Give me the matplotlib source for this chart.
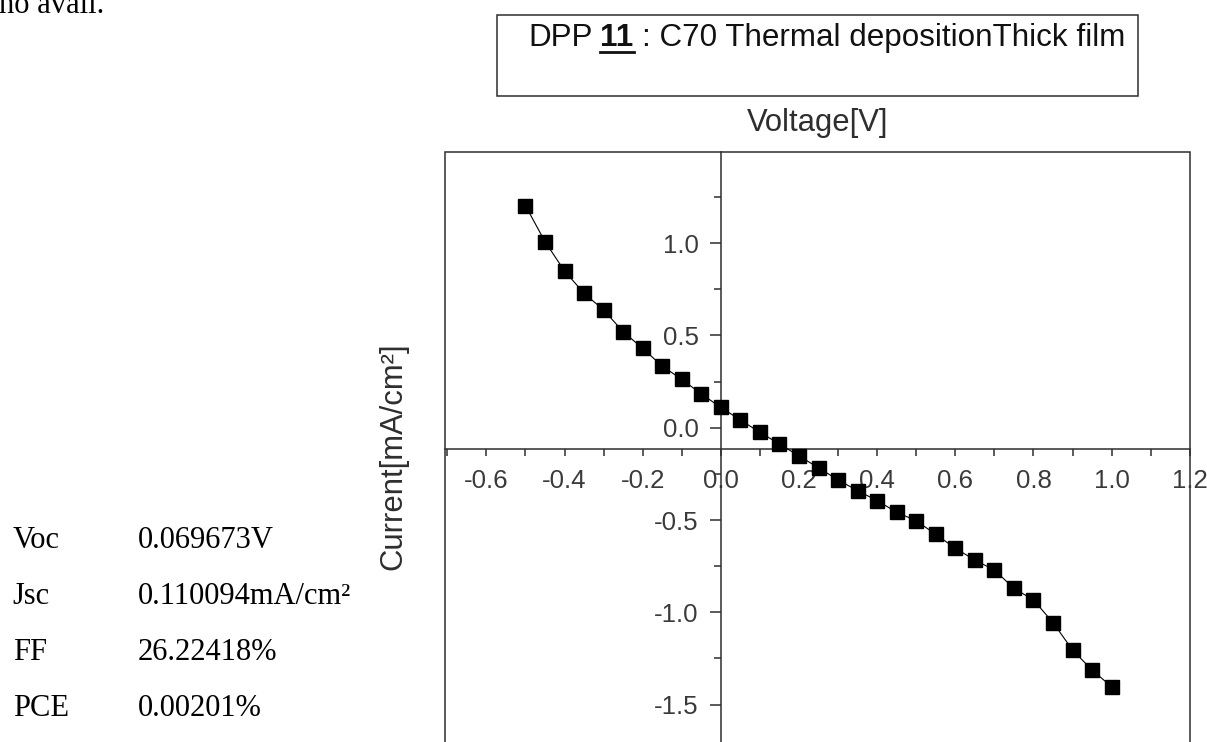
import matplotlib
matplotlib.use("Agg")
from matplotlib import pyplot as plt
from matplotlib.patches import Rectangle
from matplotlib.lines import Line2D
from matplotlib.ticker import MultipleLocator, FormatStrFormatter

# Curva J-V (V, mA/cm2)
tensao = [-0.50, -0.45, -0.40, -0.35, -0.30, -0.25, -0.20, -0.15, -0.10, -0.05,
          0.00, 0.05, 0.10, 0.15, 0.20, 0.25, 0.30, 0.35, 0.40, 0.45,
          0.50, 0.55, 0.60, 0.65, 0.70, 0.75, 0.80, 0.85, 0.90, 0.95, 1.00]
corrente = [1.203, 1.008, 0.849, 0.728, 0.638, 0.520, 0.430, 0.334, 0.262, 0.183,
            0.110, 0.042, -0.025, -0.088, -0.153, -0.217, -0.283, -0.341, -0.395, -0.458,
            -0.504, -0.578, -0.653, -0.717, -0.771, -0.870, -0.933, -1.056, -1.204, -1.313,
            -1.403]

parametros = ["Voc", "Jsc", "FF", "PCE"]
valores = ["0.069673V", "0.110094mA/cm\u00b2", "26.22418%", "0.00201%"]

titulo = [("DPP", "normal"), ("11", "bold"), (": C70 Thermal depositionThick film", "normal")]

W, H = 1207, 742
cinza = "#2e2e2e"
cinza_txt = "#3a3a3a"
plt.rcParams["font.family"] = ["Liberation Sans", "DejaVu Sans"]
plt.rcParams["axes.unicode_minus"] = False

fig = plt.figure(figsize=(W / 100, H / 100), dpi=100)

# eixos (a parte de baixo do quadro fica fora da imagem)
ax = fig.add_axes([445 / W, 1 - 760 / H, (1190 - 445) / W, (760 - 152) / H])
ax.plot(tensao, corrente, color="black", lw=0.8, marker="s", ms=9.8,
        mfc="black", mec="black", zorder=3)
ax.set_xlim(-0.706, 1.2005)
ax.set_ylim(-1.80, 1.494)

ax.patch.set_edgecolor(cinza)
ax.patch.set_linewidth(1.1)
ax.spines["top"].set_visible(False)
ax.spines["right"].set_visible(False)
ax.spines["left"].set_position(("data", 0))
ax.spines["bottom"].set_position(("data", -0.117))
for s in ["left", "bottom"]:
    ax.spines[s].set_color(cinza)
    ax.spines[s].set_linewidth(1.1)

ax.xaxis.set_major_locator(MultipleLocator(0.2))
ax.xaxis.set_minor_locator(MultipleLocator(0.1))
ax.yaxis.set_major_locator(MultipleLocator(0.5))
ax.yaxis.set_minor_locator(MultipleLocator(0.25))
ax.xaxis.set_major_formatter(FormatStrFormatter("%.1f"))
ax.yaxis.set_major_formatter(FormatStrFormatter("%.1f"))
ax.tick_params(axis="x", which="both", direction="out", length=5, width=1.1,
               color=cinza, labelsize=18.6, labelcolor=cinza_txt, pad=9.5)
ax.tick_params(axis="y", which="major", direction="out", length=8, width=1.1,
               color=cinza, labelsize=18.6, labelcolor=cinza_txt, pad=8)
ax.tick_params(axis="y", which="minor", direction="out", length=5, width=1.1, color=cinza)

ax.xaxis.set_label_position("top")
ax.set_xlabel("Voltage[V]", fontsize=22.3, color=cinza, labelpad=15)
ax.text(-52 / 745, 0.5, "Current[mA/cm\u00b2]", rotation=90, ha="center", va="center",
        fontsize=22.3, color=cinza, transform=ax.transAxes)

# caixa do titulo
fig.add_artist(Rectangle((497 / W, 1 - 96 / H), (1138 - 497) / W, 81 / H,
                         transform=fig.transFigure, fill=False, ec=cinza, lw=1.1))
r = fig.canvas.get_renderer()
x = 528
for txt, peso in titulo:
    t = fig.text(x / W, 1 - 46 / H, txt, fontsize=22.6, fontweight=peso,
                 va="baseline", color="#111111")
    bb = t.get_window_extent(r)
    if peso == "bold":
        fig.add_artist(Line2D([bb.x0 / W, bb.x1 / W], [1 - 52 / H, 1 - 52 / H],
                              transform=fig.transFigure, color="#111111", lw=2))
    x = bb.x1 + 8

# texto do documento (Times)
serif = ["Liberation Serif", "DejaVu Serif"]
fig.text(-1 / W, 1 - 12.7 / H, "no avail.", family=serif, fontsize=22, va="baseline")
for i, (p, v) in enumerate(zip(parametros, valores)):
    yb = 548 + i * 56
    fig.text(12.7 / W, 1 - yb / H, p, family=serif, fontsize=22, va="baseline")
    fig.text(138 / W, 1 - yb / H, v, family=serif, fontsize=22, va="baseline")

fig.savefig("out.png", dpi=100)
